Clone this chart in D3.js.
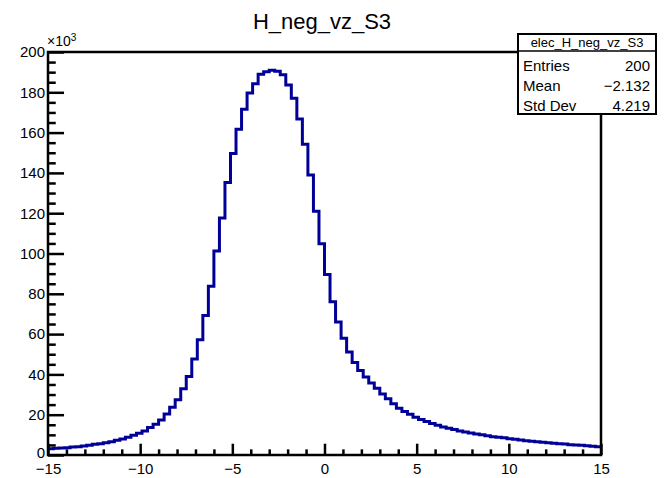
<!DOCTYPE html>
<html>
<head>
<meta charset="utf-8">
<script src="https://cdn.jsdelivr.net/npm/d3@7"></script>
<style>
  body { margin: 0; background: #fff; }
  svg text { font-family: 'Liberation Sans', Arial, Helvetica, sans-serif; fill: #000; }
</style>
</head>
<body>
<div id="chart"></div>
<script>
// histogram H_neg_vz_S3: 100 bins from -15 to 15, counts in thousands
const binLow = -15;
const binHigh = 15;
const counts = [
  3.1, 3.3, 3.5, 3.6, 4.0, 4.1, 4.5, 4.8, 5.3, 5.6,
  6.1, 6.6, 7.3, 8.0, 8.8, 9.8, 10.8, 11.9, 13.6, 15.3,
  17.4, 20.4, 23.7, 27.4, 32.9, 38.9, 47.6, 57.2, 69.2, 83.7,
  101.3, 117.6, 135.2, 149.6, 161.7, 171.6, 179.6, 184.2, 188.9, 190.2,
  191.0, 190.4, 188.7, 183.6, 177.1, 166.7, 154.2, 139.0, 121.0, 104.8,
  89.6, 76.0, 66.0, 58.0, 51.1, 45.9, 41.9, 38.7, 35.7, 33.1,
  30.3, 27.9, 25.4, 23.2, 21.6, 20.2, 18.7, 17.6, 16.6, 15.6,
  14.8, 13.9, 13.3, 12.6, 11.9, 11.4, 10.9, 10.4, 10.0, 9.5,
  9.1, 8.8, 8.5, 8.1, 7.8, 7.5, 7.1, 6.8, 6.6, 6.3,
  6.1, 5.8, 5.6, 5.5, 5.1, 5.0, 4.8, 4.6, 4.3, 4.1
];
const xTicks = [-15, -10, -5, 0, 5, 10, 15];
const yTicks = [0, 20, 40, 60, 80, 100, 120, 140, 160, 180, 200];
const title = 'H_neg_vz_S3';
const statsName = 'elec_H_neg_vz_S3';
const stats = [['Entries', '200'], ['Mean', '\u22122.132'], ['Std Dev', '4.219']];

const width = 672, height = 478;
const margin = { left: 48, right: 71, top: 52, bottom: 23 };
const lineColor = '#000099';

const svg = d3.select('#chart').append('svg')
  .attr('width', width)
  .attr('height', height);

const x = d3.scaleLinear().domain([binLow, binHigh]).range([margin.left, width - margin.right]);
const y = d3.scaleLinear().domain([0, 200]).range([height - margin.bottom, margin.top]);
const plotH = y(0) - y(200);
const plotW = x(binHigh) - x(binLow);

// title
svg.append('text')
  .attr('x', 322)
  .attr('y', 29)
  .attr('text-anchor', 'middle')
  .style('font-size', '22px')
  .text(title);

// histogram step line
const binW = (binHigh - binLow) / counts.length;
let pts = [];
counts.forEach((c, i) => {
  pts.push([x(binLow + i * binW), y(c)]);
  pts.push([x(binLow + (i + 1) * binW), y(c)]);
});
svg.append('path')
  .attr('d', d3.line()(pts))
  .attr('fill', 'none')
  .attr('stroke', lineColor)
  .attr('stroke-width', 3)
  .attr('stroke-linejoin', 'miter');

// x axis, ticks pointing into the frame
const xMinor = d3.range(binLow, binHigh + 1, 1).filter(v => !xTicks.includes(v));
svg.append('g')
  .attr('class', 'axis')
  .attr('transform', `translate(0,${y(0)})`)
  .call(d3.axisBottom(x).tickValues(xMinor).tickSize(-plotH * 0.014).tickFormat(''))
  .call(g => g.select('.domain').remove());
svg.append('g')
  .attr('class', 'axis')
  .attr('transform', `translate(0,${y(0)})`)
  .call(d3.axisBottom(x).tickValues(xTicks).tickSize(-plotH * 0.028).tickPadding(8))
  .call(g => g.select('.domain').remove());

// y axis
const yMinor = d3.range(0, 201, 5).filter(v => !yTicks.includes(v));
svg.append('g')
  .attr('class', 'axis')
  .attr('transform', `translate(${x(binLow)},0)`)
  .call(d3.axisLeft(y).tickValues(yMinor).tickSize(-plotW * 0.014).tickFormat(''))
  .call(g => g.select('.domain').remove());
svg.append('g')
  .attr('class', 'axis yAxis')
  .attr('transform', `translate(${x(binLow)},0)`)
  .call(d3.axisLeft(y).tickValues(yTicks).tickSize(-plotW * 0.029).tickPadding(3))
  .call(g => g.select('.domain').remove());

svg.selectAll('.axis line').attr('stroke', '#000').attr('stroke-width', 2.5);
svg.selectAll('.axis text')
  .style('font-size', '15px')
  .attr('font-family', null);
// lift the zero label a little so it clears the -15 below it
svg.selectAll('.yAxis .tick text').filter(d => d === 0).attr('y', -2);

// frame
svg.append('rect')
  .attr('x', x(binLow))
  .attr('y', y(200))
  .attr('width', plotW)
  .attr('height', plotH)
  .attr('fill', 'none')
  .attr('stroke', '#000')
  .attr('stroke-width', 2.5);

// exponent label
const expo = svg.append('text')
  .attr('x', x(binLow) - 1)
  .attr('y', y(200) - 6)
  .style('font-size', '14px');
expo.append('tspan').text('\u00d710');
expo.append('tspan').attr('dy', -5).style('font-size', '10px').text('3');

// stats box
const box = { x: 518, y: 34, w: 138, h: 80, head: 17 };
svg.append('rect')
  .attr('x', box.x).attr('y', box.y)
  .attr('width', box.w).attr('height', box.h)
  .attr('fill', '#fff')
  .attr('stroke', '#000')
  .attr('stroke-width', 2);
svg.append('line')
  .attr('x1', box.x).attr('x2', box.x + box.w)
  .attr('y1', box.y + box.head).attr('y2', box.y + box.head)
  .attr('stroke', '#000')
  .attr('stroke-width', 1.5);
svg.append('text')
  .attr('x', box.x + box.w / 2)
  .attr('y', box.y + 13)
  .attr('text-anchor', 'middle')
  .style('font-size', '13px')
  .text(statsName);
stats.forEach((s, i) => {
  const by = box.y + box.head + 20 * (i + 1) - 0.5;
  svg.append('text')
    .attr('x', box.x + 5).attr('y', by)
    .style('font-size', '15px')
    .text(s[0]);
  svg.append('text')
    .attr('x', box.x + box.w - 6).attr('y', by)
    .attr('text-anchor', 'end')
    .style('font-size', '15px')
    .text(s[1]);
});
</script>
</body>
</html>
